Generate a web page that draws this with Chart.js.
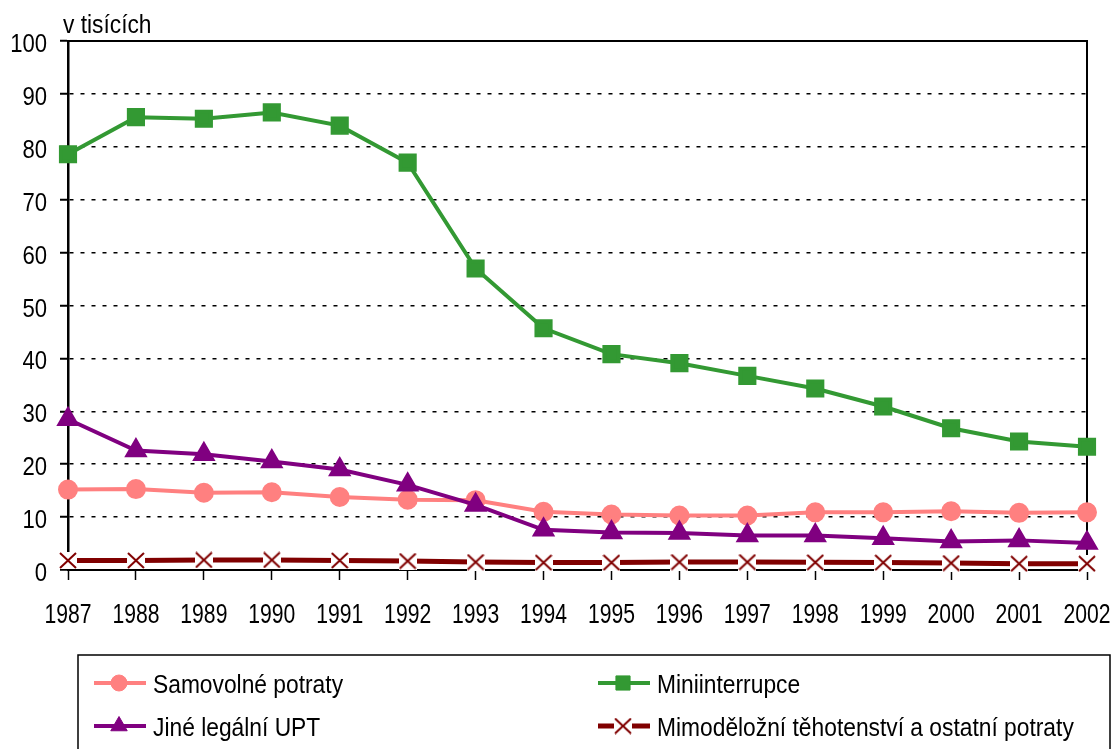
<!DOCTYPE html>
<html lang="cs">
<head>
<meta charset="UTF-8">
<title>Potraty 1987-2002</title>
<script src="https://cdn.jsdelivr.net/npm/chart.js"></script>
<style>
  body { margin: 0; background: #fff; }
</style>
</head>
<body>
<canvas id="graf" width="1115" height="749"></canvas>
<script>
// data (v tisících)
const roky = ['1987','1988','1989','1990','1991','1992','1993','1994','1995','1996','1997','1998','1999','2000','2001','2002'];
const samovolne = [15.2, 15.3, 14.6, 14.7, 13.8, 13.3, 13.2, 11.0, 10.5, 10.3, 10.3, 10.9, 10.9, 11.1, 10.8, 10.9];
const miniinterrupce = [78.6, 85.6, 85.3, 86.5, 84.0, 77.0, 57.0, 45.7, 40.8, 39.1, 36.7, 34.3, 30.9, 26.8, 24.3, 23.3];
const jineUPT = [28.5, 22.6, 21.9, 20.5, 19.0, 16.1, 12.3, 7.6, 7.1, 7.0, 6.5, 6.5, 6.0, 5.4, 5.6, 5.1];
const mimodelozni = [1.8, 1.8, 1.9, 1.9, 1.8, 1.7, 1.5, 1.4, 1.4, 1.5, 1.5, 1.45, 1.4, 1.3, 1.2, 1.2];
const nazvy = ['Samovolné potraty', 'Miniinterrupce', 'Jiné legální UPT', 'Mimoděložní těhotenství a ostatní potraty'];
const jednotka = 'v tisících';

const FONT = "'Liberation Sans', Arial, sans-serif";

// uzky text (puvodni graf ma Arial Narrow, ten tu neni)
function uzkyText(ctx, text, x, y, size, sx, align) {
    ctx.save();
    ctx.font = size + 'px ' + FONT;
    ctx.textAlign = align || 'left';
    ctx.textBaseline = 'alphabetic';
    ctx.fillStyle = '#000';
    ctx.translate(x, y);
    ctx.scale(sx, 1);
    ctx.fillText(text, 0, 0);
    ctx.restore();
}

// krizek s bilym pozadim (cara se kolem nej prerusuje)
const krizek = document.createElement('canvas');
krizek.width = 18; krizek.height = 17;
(function () {
    const c = krizek.getContext('2d');
    c.fillStyle = '#fff';
    c.fillRect(0, 0, 18, 17);
    c.strokeStyle = '#800000';
    c.lineWidth = 2;
    c.beginPath();
    c.moveTo(1, 1); c.lineTo(17, 16);
    c.moveTo(17, 1); c.lineTo(1, 16);
    c.stroke();
})();

// horni a prava hrana, popisky os, nadpis osy a legenda v ramecku
const ramecek = {
    id: 'ramecek',
    beforeDatasetsDraw(chart) {
        const ctx = chart.ctx, a = chart.chartArea;
        ctx.save();
        ctx.strokeStyle = '#000';
        ctx.lineWidth = 2;
        ctx.beginPath();
        ctx.moveTo(a.left, a.top);
        ctx.lineTo(a.right, a.top);
        ctx.lineTo(a.right, a.bottom);
        ctx.stroke();
        ctx.restore();
    },
    afterDraw(chart) {
        const ctx = chart.ctx;
        const sx = chart.scales.x, sy = chart.scales.y;

        sy.ticks.forEach(t => {
            uzkyText(ctx, String(t.value), 47, sy.getPixelForValue(t.value) + 11, 26, 0.85, 'right');
        });
        sx.ticks.forEach((t, i) => {
            uzkyText(ctx, sx.getLabelForValue(t.value), sx.getPixelForTick(i), 622.5, 27.5, 0.77, 'center');
        });

        uzkyText(ctx, jednotka, 63, 33, 25, 0.91);

        ctx.save();
        ctx.strokeStyle = '#000';
        ctx.lineWidth = 1.5;
        ctx.strokeRect(78, 655, 1032, 110);

        const sloupce = [92, 596], radky = [683, 726];
        chart.data.datasets.forEach((ds, i) => {
            const x0 = sloupce[i % 2], y = radky[Math.floor(i / 2)];
            ctx.strokeStyle = ds.borderColor;
            ctx.lineWidth = ds.borderWidth;
            ctx.beginPath();
            ctx.moveTo(x0 + 2, y);
            ctx.lineTo(x0 + 54, y);
            ctx.stroke();
            ctx.fillStyle = ds.pointBackgroundColor;
            ctx.strokeStyle = ds.pointBorderColor;
            ctx.lineWidth = 1;
            Chart.helpers.drawPoint(ctx, { pointStyle: ds.pointStyle, radius: ds.pointRadius, borderWidth: 1 }, x0 + 27, y);
            uzkyText(ctx, ds.label, x0 + 61, y + 9.5, 26.5, 0.86);
        });
        ctx.restore();
    }
};

new Chart(document.getElementById('graf'), {
    type: 'line',
    data: {
        labels: roky,
        datasets: [
            {
                label: nazvy[0], data: samovolne, order: 2,
                borderColor: '#ff8080', borderWidth: 4,
                pointStyle: 'circle', pointRadius: 8,
                pointBackgroundColor: '#ff8080', pointBorderColor: '#ff8080'
            },
            {
                label: nazvy[1], data: miniinterrupce, order: 0,
                borderColor: '#339933', borderWidth: 4,
                pointStyle: 'rect', pointRadius: 10,
                pointBackgroundColor: '#339933', pointBorderColor: '#339933'
            },
            {
                label: nazvy[2], data: jineUPT, order: 1,
                borderColor: '#800080', borderWidth: 4,
                pointStyle: 'triangle', pointRadius: 9.5,
                pointBackgroundColor: '#800080', pointBorderColor: '#800080'
            },
            {
                label: nazvy[3], data: mimodelozni, order: 3,
                borderColor: '#800000', borderWidth: 5,
                pointStyle: krizek, pointRadius: 8,
                pointBackgroundColor: '#800000', pointBorderColor: '#800000'
            }
        ]
    },
    options: {
        responsive: false,
        animation: false,
        clip: false,
        layout: { padding: { top: 41, right: 28, bottom: 119, left: 0 } },
        plugins: {
            legend: { display: false },
            tooltip: { enabled: false }
        },
        elements: { line: { tension: 0 } },
        scales: {
            x: {
                offset: false,
                afterFit(s) { s.height = 60; },
                border: { color: '#000', width: 2 },
                grid: {
                    drawOnChartArea: false, drawTicks: true,
                    tickLength: 10, tickColor: '#000', tickWidth: 1.5
                },
                ticks: { display: false, autoSkip: false }
            },
            y: {
                min: 0, max: 100,
                afterFit(s) { s.width = 68; },
                border: { color: '#000', width: 2.5, dash: [4, 7] },
                grid: {
                    color: c => (c.tick && (c.tick.value === 0 || c.tick.value === 100)) ? 'rgba(0,0,0,0)' : '#000',
                    lineWidth: 1.5,
                    tickLength: 8, tickColor: '#000', tickWidth: 2, tickBorderDash: []
                },
                ticks: { display: false, stepSize: 10 }
            }
        }
    },
    plugins: [ramecek]
});
</script>
</body>
</html>
